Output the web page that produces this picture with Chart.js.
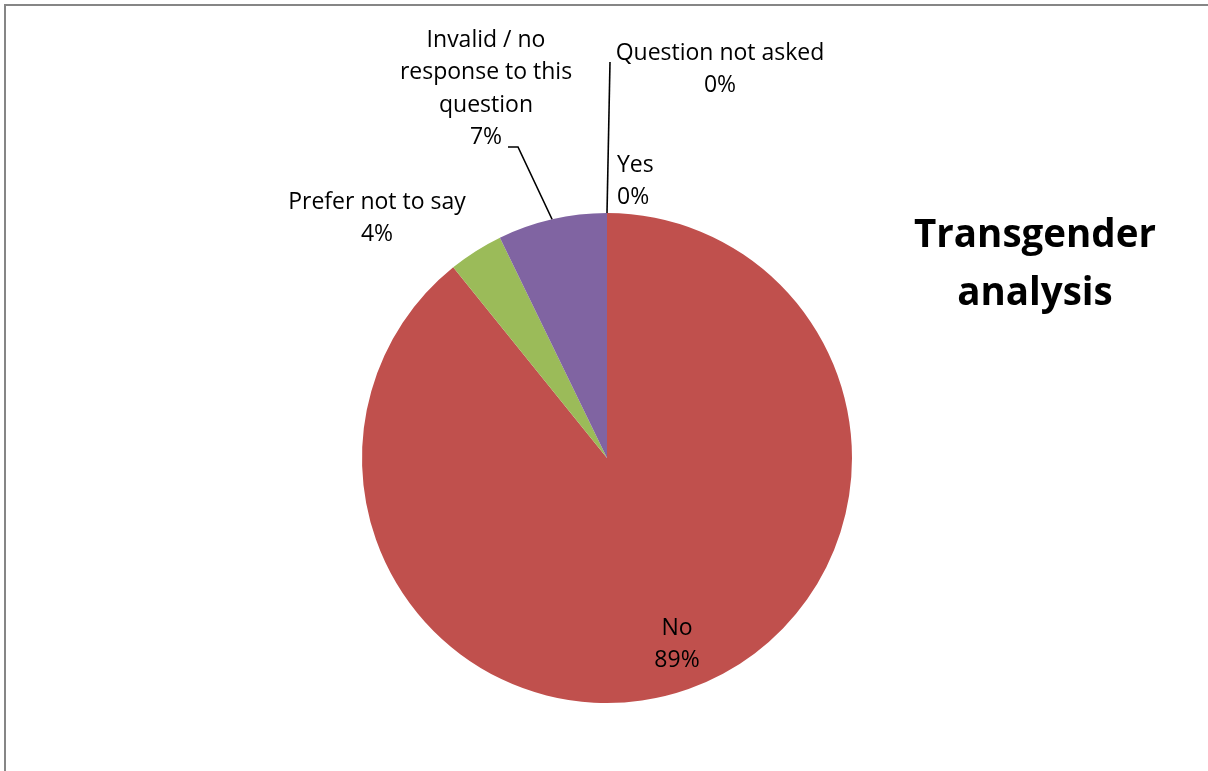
<!DOCTYPE html>
<html>
<head>
<meta charset="utf-8">
<script src="https://cdn.jsdelivr.net/npm/chart.js@4.4.1/dist/chart.umd.min.js"></script>
<style>
  html, body { margin: 0; padding: 0; background: #fff; }
  #wrap { position: relative; width: 1208px; height: 771px; }
  #frame { position: absolute; left: 4px; top: 4px; right: 0; bottom: 0; border-left: 2px solid #868686; border-top: 2px solid #868686; }
</style>
</head>
<body>
<div id="wrap">
  <div id="frame"></div>
  <canvas id="pie" width="1208" height="771"></canvas>
</div>
<script>
// 응답 분류와 비율(%)
const categories = ['Yes', 'No', 'Prefer not to say', 'Invalid / no response to this question', 'Question not asked'];
const shares = [0.0, 89.2, 3.6, 7.2, 0.0];
const sliceColors = ['#4F81BD', '#C0504D', '#9BBB59', '#8064A2', '#4BACC6'];
const titleLines = ['Transgender', 'analysis'];

// 라벨 배치 (줄 단위 텍스트, 기준점, 정렬, 지시선)
const labelLayout = [
  { lines: ['Yes'], x: 617, y: 165, align: 'left' },
  { lines: ['No'], x: 677, y: 628, align: 'center' },
  { lines: ['Prefer not to say'], x: 377, y: 202, align: 'center' },
  { lines: ['Invalid / no', 'response to this', 'question'], x: 486, y: 40, align: 'center', leader: [[508, 147], [518, 147]] },
  { lines: ['Question not asked'], x: 720, y: 53, align: 'center', leader: [[610, 62]] }
];

const FONT = '"Open Sans", "Noto Sans", sans-serif';
const LINE_H = 32.5;

const pieLabels = {
  id: 'pieLabels',
  afterDatasetsDraw(chart) {
    const { ctx } = chart;
    const meta = chart.getDatasetMeta(0);
    const total = shares.reduce((a, b) => a + b, 0);
    ctx.save();
    ctx.fillStyle = '#000';
    ctx.textBaseline = 'middle';
    ctx.font = '23px ' + FONT;

    labelLayout.forEach((lab, i) => {
      const arc = meta.data[i];
      const pct = Math.round(shares[i] / total * 100) + '%';
      const lines = [...lab.lines, pct];
      ctx.textAlign = lab.align;
      lines.forEach((t, k) => ctx.fillText(t, lab.x, lab.y + k * LINE_H));

      if (lab.leader) {
        // 지시선: 라벨에서 조각 바깥 중앙까지
        const mid = (arc.startAngle + arc.endAngle) / 2;
        const ex = arc.x + Math.cos(mid) * arc.outerRadius;
        const ey = arc.y + Math.sin(mid) * arc.outerRadius;
        ctx.beginPath();
        ctx.strokeStyle = '#000';
        ctx.lineWidth = 1.6;
        ctx.moveTo(lab.leader[0][0], lab.leader[0][1]);
        lab.leader.slice(1).forEach(p => ctx.lineTo(p[0], p[1]));
        ctx.lineTo(ex, ey);
        ctx.stroke();
      }
    });

    // 제목
    ctx.font = 'bold 38.5px ' + FONT;
    ctx.textAlign = 'center';
    titleLines.forEach((t, k) => ctx.fillText(t, 1035, 236 + k * 58));
    ctx.restore();
  }
};

new Chart(document.getElementById('pie'), {
  type: 'pie',
  data: {
    labels: categories,
    datasets: [{
      data: shares,
      backgroundColor: sliceColors,
      borderWidth: 0
    }]
  },
  options: {
    responsive: false,
    animation: false,
    layout: { padding: { left: 362, right: 356, top: 213, bottom: 68 } },
    plugins: { legend: { display: false }, tooltip: { enabled: false } }
  },
  plugins: [pieLabels]
});
</script>
</body>
</html>
